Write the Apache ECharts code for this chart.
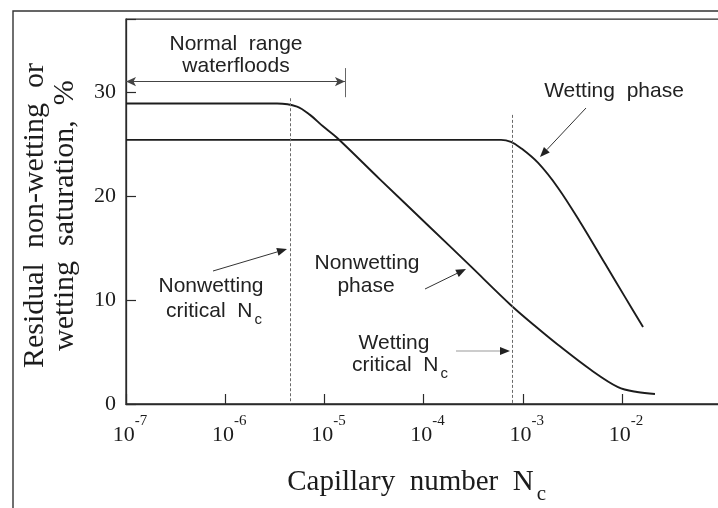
<!DOCTYPE html>
<html>
<head>
<meta charset="utf-8">
<script src="https://cdn.jsdelivr.net/npm/echarts@6.0.0/dist/echarts.min.js"></script>
<style>
  html, body { margin: 0; padding: 0; background: #fff; }
  #chart { width: 718px; height: 508px; }
</style>
</head>
<body>
<div id="chart"></div>
<script>
// Capillary desaturation curves: residual saturation vs capillary number
const nonwettingNc  = [1e-7, 3.33e-6, 5.30e-6, 7.16e-6, 9.68e-6, 1.34e-5, 3.63e-5, 1.16e-4, 2.94e-4, 7.6e-4, 1.33e-3, 2.26e-3, 4.88e-3, 9.12e-3, 1.42e-2, 2.15e-2];
const nonwettingSat = [28.9, 28.9, 28.6, 27.8, 26.7, 25.6, 21.6, 17.0, 13.3, 9.5, 7.5, 5.7, 3.27, 1.63, 1.15, 0.96];
const wettingNc  = [1e-7, 6.03e-4, 7.6e-4, 9.59e-4, 1.42e-3, 2.26e-3, 3.78e-3, 6.74e-3, 1.07e-2, 1.63e-2];
const wettingSat = [25.4, 25.4, 25.2, 24.6, 23.2, 20.8, 17.5, 13.5, 10.3, 7.4];

// critical capillary numbers (dashed markers) and the top of each marker
const criticalNc  = [4.5e-6, 7.8e-4];
const criticalTop = [29.4, 27.8];

// normal waterflood range: from/to capillary number, drawn at this saturation level
const normalRangeNc = [1e-7, 1.61e-5];
const normalRangeLevel = 31.0;
const normalRangeBar = [29.5, 32.3];

// axis ticks
const xTickExponents = [-7, -6, -5, -4, -3, -2];
const yTickValues = [0, 10, 20, 30];

const INK = '#1c1c1c';
const SERIF = '"Liberation Serif", "DejaVu Serif", serif';
const SANS = '"Liberation Sans", Arial, sans-serif';

function zip(xs, ys) { return xs.map((x, i) => [x, ys[i]]); }

// straight arrow with a filled head, in pixels
function arrow(x1, y1, x2, y2, len, half, color) {
  const a = Math.atan2(y2 - y1, x2 - x1);
  const c = Math.cos(a), s = Math.sin(a);
  const bx = x2 - len * c, by = y2 - len * s;
  return {
    type: 'group',
    silent: true,
    children: [
      { type: 'line', shape: { x1: x1, y1: y1, x2: bx, y2: by },
        style: { stroke: color || '#333', lineWidth: 1 } },
      { type: 'polygon',
        shape: { points: [[x2, y2], [bx + half * s, by - half * c], [bx - half * s, by + half * c]] },
        style: { fill: '#222' } }
    ]
  };
}

function label(text, x, y, rich) {
  return {
    type: 'text', silent: true, x: x, y: y,
    style: {
      text: text, font: '21px ' + SANS, fill: '#222',
      align: 'center', verticalAlign: 'middle',
      rich: rich || {}
    }
  };
}

const subRich = {
  m: { fontSize: 21, fontFamily: SANS, color: '#222', lineHeight: 26 },
  s: { fontSize: 15, fontFamily: SANS, color: '#222', lineHeight: 15, verticalAlign: 'bottom', padding: [0, 0, -3, 2] }
};

const chart = echarts.init(document.getElementById('chart'), null, { renderer: 'canvas' });

chart.setOption({
  animation: false,
  backgroundColor: '#fff',
  grid: {
    left: 126, top: 19.2, width: 595.2, height: 384.8,
    outerBoundsMode: 'none',
    containLabel: false,
    show: true, borderColor: '#2a2a2a', borderWidth: 1.3, backgroundColor: 'transparent'
  },
  xAxis: {
    type: 'log', logBase: 10, min: 1e-7, max: 1e-1,
    name: '{m|Capillary  number  N}{s|c}',
    nameLocation: 'middle', nameGap: 59,
    nameTextStyle: {
      padding: [0, 14, 0, 0],
      rich: {
        m: { fontFamily: SERIF, fontSize: 29, color: INK, lineHeight: 38 },
        s: { fontFamily: SERIF, fontSize: 21, color: INK, lineHeight: 21, verticalAlign: 'bottom', padding: [0, 0, -4, 3] }
      }
    },
    axisLine: { lineStyle: { color: '#2a2a2a', width: 1.3 } },
    axisTick: { inside: true, length: 10, lineStyle: { color: '#2a2a2a', width: 1.2 } },
    minorTick: { show: false },
    splitLine: { show: false },
    axisLabel: {
      margin: 10,
      showMaxLabel: false,
      padding: [0, 0, 0, 8],
      formatter: function (v) {
        const e = Math.round(Math.log10(v));
        if (xTickExponents.indexOf(e) < 0) return '';
        return '{b|10}{s|' + e + '}';
      },
      rich: {
        b: { fontFamily: SERIF, fontSize: 22, color: INK, lineHeight: 42 },
        s: { fontFamily: SERIF, fontSize: 15, color: INK, lineHeight: 15, verticalAlign: 'top' }
      }
    }
  },
  yAxis: {
    type: 'value', min: 0, max: 37, interval: 10,
    name: 'Residual  non-wetting  or\nwetting  saturation,  %',
    nameLocation: 'middle', nameRotate: 90, nameGap: 46,
    nameTextStyle: {
      fontFamily: SERIF, fontSize: 30, lineHeight: 30, color: INK,
      padding: [0, 8, 0, 0]
    },
    axisLine: { show: true, lineStyle: { color: '#2a2a2a', width: 1.3 } },
    axisTick: { show: true, inside: true, length: 10, lineStyle: { color: '#2a2a2a', width: 1.2 } },
    splitLine: { show: false },
    axisLabel: {
      margin: 10,
      fontFamily: SERIF, fontSize: 22, color: INK,
      formatter: function (v) { return yTickValues.indexOf(v) >= 0 ? String(v) : ''; }
    }
  },
  series: [
    {
      name: 'Nonwetting phase',
      type: 'line',
      data: zip(nonwettingNc, nonwettingSat),
      showSymbol: false,
      smooth: 0.35,
      lineStyle: { color: INK, width: 1.9 },
      silent: true,
      markLine: {
        silent: true,
        symbol: 'none',
        label: { show: false },
        lineStyle: { color: '#6a6a6a', width: 1, type: [3, 2] },
        data: criticalNc.map((nc, i) => [{ coord: [nc, criticalTop[i]] }, { coord: [nc, 0] }])
      }
    },
    {
      name: 'Wetting phase',
      type: 'line',
      data: zip(wettingNc, wettingSat),
      showSymbol: false,
      smooth: 0.35,
      lineStyle: { color: INK, width: 1.9 },
      silent: true,
      markLine: {
        silent: true,
        label: { show: false },
        data: [
          [
            { coord: [normalRangeNc[0], normalRangeLevel], symbol: 'arrow', symbolSize: [7, 10],
              lineStyle: { color: '#444', width: 1, type: 'solid' } },
            { coord: [normalRangeNc[1], normalRangeLevel], symbol: 'arrow', symbolSize: [7, 10] }
          ],
          [
            { coord: [normalRangeNc[1], normalRangeBar[0]], symbol: 'none',
              lineStyle: { color: '#666', width: 1, type: 'solid' } },
            { coord: [normalRangeNc[1], normalRangeBar[1]], symbol: 'none' }
          ]
        ]
      }
    }
  ],
  graphic: [
    // outer figure frame
    { type: 'rect', silent: true, shape: { x: 13, y: 11, width: 800, height: 600 },
      style: { fill: 'none', stroke: '#333', lineWidth: 1.4 } },

    label('Normal  range', 236, 44),
    label('waterfloods', 236, 66),

    label('Wetting  phase', 614, 91),
    arrow(586, 108, 540, 157, 10, 4),

    label('Nonwetting', 211, 286),
    label('{m|critical  N}{s|c}', 214, 311, subRich),
    arrow(213, 271, 287, 249, 10, 4),

    label('Nonwetting', 367, 263),
    label('phase', 366, 286),
    arrow(425, 289, 466, 269, 10, 4),

    label('Wetting', 394, 343),
    label('{m|critical  N}{s|c}', 400, 365, subRich),
    arrow(456, 351, 510, 351, 10, 4, '#999')
  ]
});
</script>
</body>
</html>
